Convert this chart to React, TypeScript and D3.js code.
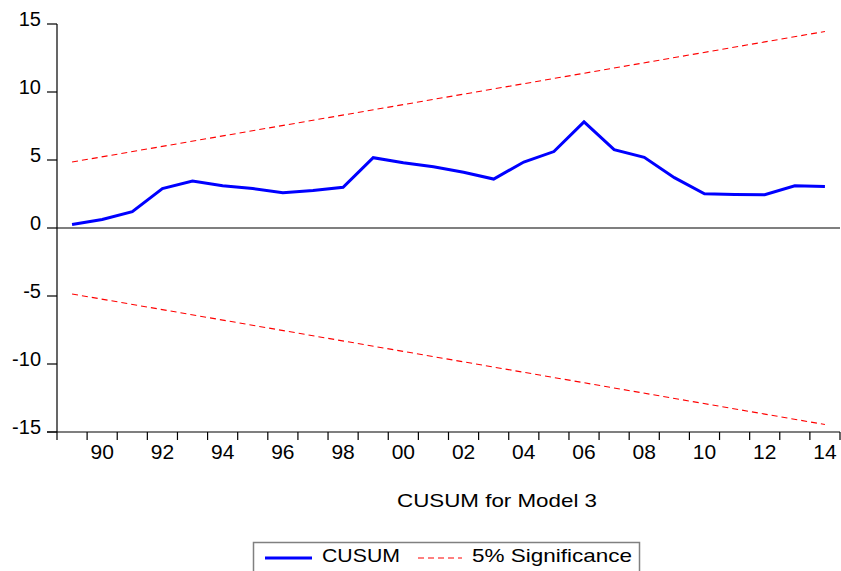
import React from 'react';
import * as d3 from 'd3';

// CUSUM values per year
const years = [1989, 1990, 1991, 1992, 1993, 1994, 1995, 1996, 1997, 1998, 1999, 2000, 2001,
  2002, 2003, 2004, 2005, 2006, 2007, 2008, 2009, 2010, 2011, 2012, 2013, 2014];
const cusum = [0.25, 0.62, 1.2, 2.9, 3.45, 3.1, 2.9, 2.6, 2.75, 3.0, 5.17, 4.8, 4.5,
  4.1, 3.6, 4.85, 5.62, 7.8, 5.76, 5.2, 3.7, 2.52, 2.47, 2.45, 3.1, 3.06];

// 5% significance bounds (straight lines, endpoints)
const boundYears = [1989, 2014];
const upperBound = [4.85, 14.45];
const lowerBound = [-4.85, -14.45];

const yTicks = [15, 10, 5, 0, -5, -10, -15];
const xLabelYears = [1990, 1992, 1994, 1996, 1998, 2000, 2002, 2004, 2006, 2008, 2010, 2012, 2014];

const font = '"Liberation Sans", Arial, sans-serif';

const App = () => {
  const left = 57;
  const right = 840;
  const top = 24;
  const bottom = 432;

  const x = d3.scaleLinear().domain([1989, 2015]).range([left, right]);
  const y = d3.scaleLinear().domain([-15, 15]).range([bottom, top]);

  // points sit in the middle of each year
  const line = d3.line<number>()
    .x((d, i) => x(years[i] + 0.5))
    .y((d) => y(d));

  const boundLine = d3.line<number>()
    .x((d, i) => x(boundYears[i] + 0.5))
    .y((d) => y(d));

  const yearTicks = d3.range(1989, 2016);

  return (
    <svg width={841} height={571} style={{ position: 'absolute', left: 0, top: 0, background: '#fff' }}>
      <rect x={0} y={0} width={841} height={571} fill="#fff" />

      {/* zero line */}
      <line x1={left} x2={right} y1={y(0)} y2={y(0)} stroke="#000" strokeWidth={1.2} />

      {/* bounds */}
      <path d={boundLine(upperBound) || ''} fill="none" stroke="#ff0000" strokeWidth={1.1} strokeDasharray="6,4" />
      <path d={boundLine(lowerBound) || ''} fill="none" stroke="#ff0000" strokeWidth={1.1} strokeDasharray="6,4" />

      {/* CUSUM */}
      <path d={line(cusum) || ''} fill="none" stroke="#0000ff" strokeWidth={3} strokeLinejoin="miter" />

      {/* y axis */}
      <line x1={left} x2={left} y1={top} y2={bottom} stroke="#000" strokeWidth={1.2} />
      {yTicks.map((t) => (
        <g key={t}>
          <line x1={left - 10} x2={left} y1={y(t)} y2={y(t)} stroke="#000" strokeWidth={1.2} />
          <text x={41} y={y(t) + 2} textAnchor="end" fontFamily={font} fontSize={20} fill="#000">{t}</text>
        </g>
      ))}

      {/* x axis */}
      <line x1={left - 10} x2={right} y1={bottom} y2={bottom} stroke="#000" strokeWidth={1.2} />
      {yearTicks.map((yr) => (
        <line key={yr} x1={x(yr)} x2={x(yr)} y1={bottom} y2={bottom + 8} stroke="#000" strokeWidth={1.2} />
      ))}
      {xLabelYears.map((yr) => (
        <text key={yr} x={x(yr + 0.5)} y={459} textAnchor="middle" fontFamily={font} fontSize={21} fill="#000">
          {String(yr % 100).padStart(2, '0')}
        </text>
      ))}

      {/* title */}
      <text x={397} y={507} fontFamily={font} fontSize={19} textLength={200} lengthAdjust="spacingAndGlyphs" fill="#000">
        CUSUM for Model 3
      </text>

      {/* legend */}
      <rect x={253.5} y={542.5} width={386} height={40} fill="#fff" stroke="#808080" strokeWidth={1.5} />
      <line x1={265} x2={312} y1={558} y2={558} stroke="#0000ff" strokeWidth={3} />
      <text x={322} y={562} fontFamily={font} fontSize={19} textLength={78} lengthAdjust="spacingAndGlyphs" fill="#000">CUSUM</text>
      <line x1={418} x2={462} y1={558} y2={558} stroke="#ff0000" strokeWidth={1.1} strokeDasharray="6,4" />
      <text x={472} y={562} fontFamily={font} fontSize={19} textLength={160} lengthAdjust="spacingAndGlyphs" fill="#000">5% Significance</text>
    </svg>
  );
};

export default App;
